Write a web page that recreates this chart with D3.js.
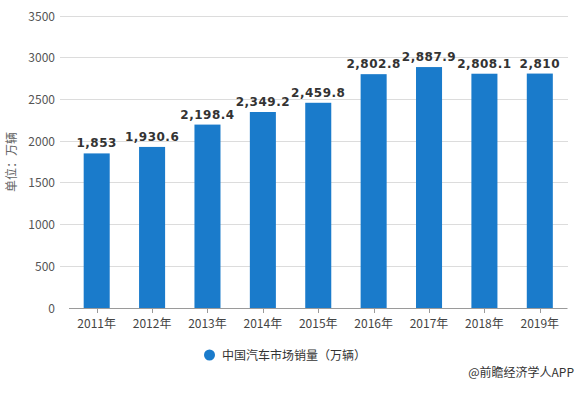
<!DOCTYPE html>
<html><head><meta charset="utf-8">
<script src="https://cdn.jsdelivr.net/npm/d3@7"></script>
<style>body{margin:0;background:#fff}svg{display:block}</style>
</head><body>
<svg id="c" width="580" height="394"></svg>
<script>
const categories = ["2011年","2012年","2013年","2014年","2015年","2016年","2017年","2018年","2019年"];
const values = [1853, 1930.6, 2198.4, 2349.2, 2459.8, 2802.8, 2887.9, 2808.1, 2810];
const valueLabels = ["1,853","1,930.6","2,198.4","2,349.2","2,459.8","2,802.8","2,887.9","2,808.1","2,810"];
const yTicks = [0,500,1000,1500,2000,2500,3000,3500];
const seriesName = "中国汽车市场销量（万辆）";
const yTitle = "单位：万辆";
const source = "@前瞻经济学人APP";

const svg = d3.select("#c");
const font = "'Microsoft YaHei','Noto Sans CJK SC',sans-serif";
const color = "#1a7bcb";
const x = d3.scaleBand().domain(categories).range([69, 567.5]).paddingInner(0.53).paddingOuter(0.265);
const y = d3.scaleLinear().domain([0, 3500]).range([308, 16]);

// gridlines
svg.append("g").selectAll("line").data(yTicks.filter(d => d > 0)).join("line")
  .attr("x1", 60).attr("x2", 567.5).attr("y1", d => y(d)).attr("y2", d => y(d))
  .attr("stroke", "#dcdcdc").attr("stroke-width", 1).attr("shape-rendering","crispEdges");

// y labels
svg.append("g").selectAll("text").data(yTicks).join("text")
  .attr("x", 55).attr("y", d => y(d) + 4.5).attr("text-anchor","end")
  .attr("font-family", font).attr("font-size", 12).attr("fill", "#555").text(d => d);

// bars
svg.append("g").selectAll("rect").data(values).join("rect")
  .attr("x", (d,i) => x(categories[i])).attr("width", x.bandwidth())
  .attr("y", d => y(d)).attr("height", d => y(0) - y(d)).attr("fill", color);

// x axis line and ticks
svg.append("line").attr("x1", 69).attr("x2", 567.5).attr("y1", 308.5).attr("y2", 308.5)
  .attr("stroke", "#9a9a9a").attr("stroke-width", 1);
svg.append("g").selectAll("line").data(categories).join("line")
  .attr("x1", d => Math.round(x(d) + x.bandwidth()/2) + 0.5).attr("x2", d => Math.round(x(d) + x.bandwidth()/2) + 0.5)
  .attr("y1", 308).attr("y2", 313).attr("stroke", "#9a9a9a");
svg.append("g").selectAll("text").data(categories).join("text")
  .attr("x", d => x(d) + x.bandwidth()/2).attr("y", 328).attr("text-anchor","middle")
  .attr("font-family", font).attr("font-size", 12).attr("fill", "#444").text(d => d);

// value labels
svg.append("g").selectAll("text").data(values).join("text")
  .attr("x", (d,i) => x(categories[i]) + x.bandwidth()/2).attr("y", d => y(d) - 6)
  .attr("text-anchor","middle").attr("font-family", "'DejaVu Sans','Noto Sans',sans-serif").attr("font-weight","bold")
  .attr("font-size", 12).attr("letter-spacing", 0.5).attr("fill", "#333").text((d,i) => valueLabels[i]);

// y title
svg.append("text").attr("transform", "translate(16,162) rotate(-90)").attr("text-anchor","middle")
  .attr("font-family", font).attr("font-size", 12).attr("fill", "#666").text(yTitle);

// legend
svg.append("circle").attr("cx", 209.5).attr("cy", 355).attr("r", 5.5).attr("fill", color);
svg.append("text").attr("x", 222).attr("y", 359.5).attr("font-family", font).attr("font-size", 12)
  .attr("fill", "#333").text(seriesName);

// source
svg.append("text").attr("x", 574).attr("y", 377).attr("text-anchor","end").attr("font-family", font)
  .attr("font-size", 12).attr("fill", "#333").text(source);
</script>
</body></html>
